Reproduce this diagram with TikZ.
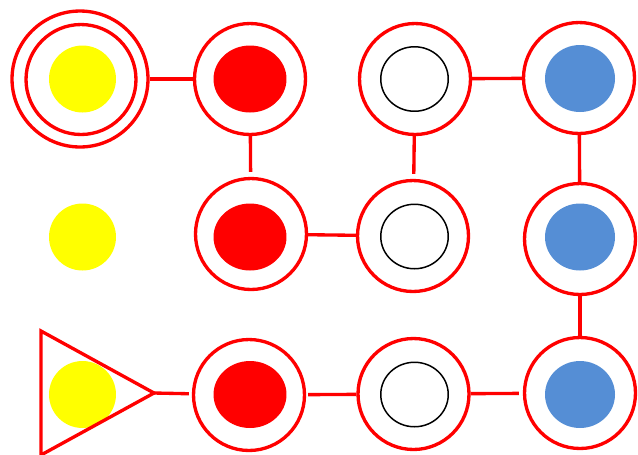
\documentclass[tikz,border=0pt]{standalone}
\usepackage{xcolor}
\usepackage{tikz}
\usetikzlibrary{shapes.geometric, positioning}
\definecolor{stopred}{RGB}{255,0,0}
\definecolor{stopyellow}{RGB}{255,255,0}
\definecolor{stopblue}{RGB}{85,142,213}

\begin{document}
\begin{tikzpicture}[
    x=0.02cm, y=-0.02cm,
    ring/.style={circle, draw=stopred, line width=1.9pt,
                 minimum size=2.22cm, inner sep=0pt},
    dot/.style={ellipse, inner sep=0pt, minimum width=1.4cm,
                minimum height=1.34cm},
    link/.style={draw=stopred, line width=1.9pt}
  ]
    \useasboundingbox (0,0) rectangle (638,454);
    % yellow column
    \node[dot, fill=stopyellow, minimum width=1.34cm] (y1) at (82.5,79) {};
    \node[dot, fill=stopyellow, minimum width=1.34cm] (y2) at (82.5,237) {};
    \node[dot, fill=stopyellow, minimum width=1.34cm] (y3) at (82.5,394.5) {};
    \node[ring, minimum size=2.72cm] (s11) at (80,79) {};
    \node[ring, minimum size=2.2cm]  (s11in) at (81,79.5) {};
    \coordinate (tip) at (154,393);
    \draw[link, line join=miter] (41,331) -- (tip) -- (41,455) -- cycle;
    % red column
    \node[ring] (s12) at (250,79) {};
    \node[ring] (s22) at (251,234) {};
    \node[ring] (s32) at (249,395) {};
    \node[dot, fill=stopred, minimum width=1.46cm] (r1) at (250,79) {};
    \node[dot, fill=stopred, minimum width=1.46cm] (r2) at (250,237) {};
    \node[dot, fill=stopred, minimum width=1.46cm] (r3) at (250,394.5) {};
    % white column
    \node[ring] (s13) at (415,79) {};
    \node[ring] (s23) at (413,236) {};
    \node[ring] (s33) at (413.5,394) {};
    \node[dot, draw=black, line width=0.85pt, minimum width=1.35cm, minimum height=1.29cm] (w1) at (414.5,79) {};
    \node[dot, draw=black, line width=0.85pt, minimum width=1.35cm, minimum height=1.29cm] (w2) at (414.5,236.5) {};
    \node[dot, draw=black, line width=0.85pt, minimum width=1.35cm, minimum height=1.29cm] (w3) at (414.5,394.5) {};
    % blue column
    \node[ring] (s14) at (579,78) {};
    \node[ring] (s24) at (580,239) {};
    \node[ring] (s34) at (580,393) {};
    \node[dot, fill=stopblue] (b1) at (580,78.5) {};
    \node[dot, fill=stopblue] (b2) at (580,237) {};
    \node[dot, fill=stopblue] (b3) at (580,394.5) {};
    % links
    \draw[link] (s11) -- (s12);
    \draw[link, shorten >=0.1cm] (s12) -- (s22);
    \draw[link] (s13) -- (s14);
    \draw[link, shorten >=0.1cm] (s13) -- (s23);
    \draw[link] (s14) -- (s24);
    \draw[link] (s22) -- (s23);
    \draw[link] (s24) -- (s34);
    \draw[link, shorten >=0.06cm] (tip) -- (s32);
    \draw[link, shorten <=0.04cm] (s32) -- (s33);
    \draw[link, shorten >=0.08cm] (s33) -- (s34);
  \end{tikzpicture}
\end{document}
